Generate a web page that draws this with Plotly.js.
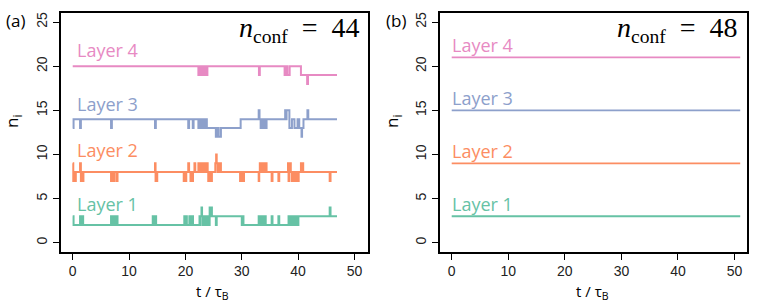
<!DOCTYPE html>
<html>
<head>
<meta charset="utf-8">
<script src="https://cdn.plot.ly/plotly-3.0.1.min.js"></script>
<style>html,body{margin:0;padding:0;background:#fff;}#chart{width:763px;height:308px;}</style>
</head>
<body>
<div id="chart"></div>
<script>
// ---- Panel (a): n_conf = 44, step traces (time in units of tau_B, occupancy n_i) ----
const layer1T = [0,0.15,1.3,1.45,1.7,1.85,6.8,6.95,7.3,7.45,7.8,7.95,14.2,14.35,14.65,14.8,19.8,19.95,20.1,20.25,20.7,20.85,21.2,21.35,
  22.5,22.6,22.7,22.85,22.95,23.1,23.2,23.35,23.45,23.6,23.7,23.9,24.05,24.2,24.3,24.45,24.55,24.7,25.4,25.55,
  30.0,30.15,30.3,33.0,33.15,33.35,33.5,33.7,33.85,34.1,34.25,35.3,35.45,36.5,36.65,
  38.3,38.45,38.55,38.7,38.85,39.0,39.2,39.3,39.5,39.6,39.8,39.9,40.05,45.6,45.75,46.9];
const layer1N = [3,2,3,2,3,2,3,2,3,2,3,2,3,2,3,2,3,2,3,2,3,2,3,2,
  3,2,3,4,3,2,3,2,3,2,3,2,3,2,4,3,4,3,2,3,
  2,3,2,3,2,3,2,3,2,3,2,3,2,3,2,
  3,2,3,2,3,2,3,2,3,2,3,2,3,4,3,3];

const layer2T = [0,0.1,0.25,0.4,0.55,1.3,1.45,1.6,1.75,1.9,6.8,6.95,7.1,7.4,7.8,7.95,14.6,14.7,14.8,14.9,15.0,
  19.7,19.85,20.0,20.15,20.5,20.65,20.9,21.1,21.2,21.35,21.6,21.75,
  22.3,22.45,22.55,22.7,22.8,22.95,23.05,23.2,23.3,23.45,23.55,23.7,23.8,23.95,
  24.05,24.2,24.3,24.45,24.55,24.7,25.3,25.45,25.55,25.7,25.8,25.95,26.05,26.3,
  29.7,29.85,29.95,30.1,30.2,30.4,33.0,33.1,33.2,33.35,33.45,33.6,33.7,33.85,33.95,34.1,34.2,34.4,
  35.3,35.45,36.5,36.65,38.2,38.3,38.45,38.55,38.7,38.9,39.05,39.15,39.3,39.4,39.55,39.65,39.8,39.9,40.1,
  40.5,40.65,40.75,40.9,45.6,45.75,46.9];
const layer2N = [9,7,8,7,8,9,7,8,7,8,7,8,7,8,7,8,9,7,8,7,8,
  7,8,7,8,9,8,7,8,7,8,9,8,
  9,8,9,8,9,8,9,8,9,8,9,8,9,8,
  7,8,7,8,7,8,9,10,9,8,9,8,9,8,
  7,8,7,8,7,8,7,8,9,8,9,8,9,8,9,8,9,8,
  7,8,7,8,9,7,8,9,8,7,8,7,8,7,8,7,8,7,8,
  9,8,9,8,7,8,8];

const layer3T = [0,0.15,1.3,1.45,6.8,6.95,14.6,14.75,20.5,20.65,21.3,21.45,
  22.3,22.45,22.55,22.7,22.8,22.95,23.05,23.2,23.3,23.45,23.55,23.7,23.8,
  25.4,25.55,25.65,25.8,25.9,26.3,29.8,33.0,33.15,33.35,33.5,33.6,33.75,33.85,34.0,34.1,34.4,
  37.7,37.85,37.95,38.45,38.9,39.35,39.9,40.2,40.6,40.7,40.95,41.65,41.8,46.9];
const layer3N = [13,14,13,14,13,14,13,14,13,14,13,14,
  13,14,13,14,13,14,13,14,13,14,13,14,13,
  12,13,12,13,12,13,14,15,14,13,14,13,14,13,14,13,14,
  15,14,15,13,14,13,14,13,12,13,14,15,14,14];

const layer4T = [0,22.3,22.45,22.6,22.75,22.85,23.0,23.1,23.25,23.35,23.5,23.6,23.9,
  33.05,33.2,37.6,37.75,37.85,38.0,38.1,38.5,40.5,41.6,41.75,46.9];
const layer4N = [20,19,20,19,20,19,20,19,20,19,20,19,20,
  19,20,19,20,19,20,19,20,19,18,19,19];

// ---- Panel (b): n_conf = 48, constant occupancies ----
const panelBT = [0, 51];
const panelBLayer1 = [3, 3];
const panelBLayer2 = [9, 9];
const panelBLayer3 = [15, 15];
const panelBLayer4 = [21, 21];

const layerNames = ["Layer 1", "Layer 2", "Layer 3", "Layer 4"];
const layerColors = ["#66c2a5", "#fc8d62", "#8da0cb", "#e78ac3"];
const xTicks = [0, 10, 20, 30, 40, 50];
const yTicks = [0, 5, 10, 15, 20, 25];
const nConf = [44, 48];
const panelTags = ["(a)", "(b)"];

const seriesA = [[layer1T, layer1N], [layer2T, layer2N], [layer3T, layer3N], [layer4T, layer4N]];
const seriesB = [panelBLayer1, panelBLayer2, panelBLayer3, panelBLayer4];

const traces = [];
seriesA.forEach((s, i) => traces.push({
  type: "scatter", mode: "lines", x: s[0], y: s[1], xaxis: "x", yaxis: "y",
  line: {shape: "hv", color: layerColors[i], width: 2}, hoverinfo: "skip", name: layerNames[i]
}));
seriesB.forEach((s, i) => traces.push({
  type: "scatter", mode: "lines", x: panelBT, y: s, xaxis: "x2", yaxis: "y2",
  line: {color: layerColors[i], width: 1.8}, hoverinfo: "skip", name: layerNames[i]
}));

const tickFont = {family: "Liberation Sans, Arial, sans-serif", size: 14, color: "#222"};
function xAx(domain, range, anchor) {
  return {domain: domain, range: range, anchor: anchor, tickmode: "array", tickvals: xTicks,
    ticks: "outside", ticklen: 6, tickwidth: 1, tickcolor: "#000", showline: true, mirror: true,
    linecolor: "#000", linewidth: 2, showgrid: false, zeroline: false, tickfont: tickFont, fixedrange: true};
}
function yAx(range, anchor) {
  return {domain: [0.1828, 0.9568], range: range, anchor: anchor, tickmode: "array", tickvals: yTicks,
    ticks: "outside", ticklen: 6, tickwidth: 1, tickcolor: "#000", showline: true, mirror: true,
    linecolor: "#000", linewidth: 2, showgrid: false, zeroline: false, tickangle: -90, tickfont: tickFont, fixedrange: true};
}

const labelFont = "Open Sans, Noto Sans, sans-serif";
const annotations = [];
const labelYA = [4.4, 10.5, 15.75, 21.8];
const labelYB = [4.35, 10.4, 16.4, 22.45];
layerNames.forEach((nm, i) => {
  annotations.push({xref: "x", yref: "y", x: 0.45, y: labelYA[i], text: nm, showarrow: false,
    xanchor: "left", yanchor: "middle", font: {family: labelFont, size: 18, color: layerColors[i]}});
  annotations.push({xref: "x2", yref: "y2", x: -0.25, y: labelYB[i], text: nm, showarrow: false,
    xanchor: "left", yanchor: "middle", font: {family: labelFont, size: 18, color: layerColors[i]}});
});
const panelLeftPx = [0, 380];
const confRightPx = [362, 740];
const xTitleCenterPx = [213, 592];
[0, 1].forEach(p => {
  annotations.push({xref: "paper", yref: "paper", x: (panelLeftPx[p] + 4) / 763, y: (308 - 20) / 308,
    text: panelTags[p], showarrow: false, xanchor: "left", yanchor: "middle",
    font: {family: "Open Sans, sans-serif", size: 17, color: "#000"}});
  annotations.push({xref: "paper", yref: "paper", x: confRightPx[p] / 763, y: (308 - 30) / 308,
    text: "<i>n</i><sub>conf</sub>&nbsp;&nbsp;=&nbsp;&nbsp;" + nConf[p], showarrow: false, xanchor: "right", yanchor: "middle",
    font: {family: "Liberation Serif, DejaVu Serif, serif", size: 28, color: "#000"}});
  annotations.push({xref: "paper", yref: "paper", x: (panelLeftPx[p] + 13) / 763, y: (308 - 122) / 308,
    text: "n<sub>i</sub>", showarrow: false, textangle: -90, xanchor: "center", yanchor: "middle",
    font: {family: "Open Sans, sans-serif", size: 17, color: "#000"}});
  annotations.push({xref: "paper", yref: "paper", x: xTitleCenterPx[p] / 763, y: (308 - 292) / 308,
    text: "t / τ<sub>B</sub>", showarrow: false, xanchor: "center", yanchor: "middle",
    font: {family: "Open Sans, sans-serif", size: 15, color: "#000"}});
});

const layout = {
  width: 763, height: 308, margin: {l: 0, r: 0, t: 0, b: 0},
  paper_bgcolor: "#fff", plot_bgcolor: "#fff", showlegend: false,
  xaxis: xAx([61 / 763, 368 / 763], [-2.08, 52.4], "y"),
  yaxis: yAx([-1.02, 26.0], "x"),
  xaxis2: xAx([440 / 763, 747 / 763], [-2.07, 52.2], "y2"),
  yaxis2: yAx([-1.02, 26.0], "x2"),
  annotations: annotations
};
Plotly.newPlot("chart", traces, layout, {staticPlot: true, displayModeBar: false});
</script>
</body>
</html>
